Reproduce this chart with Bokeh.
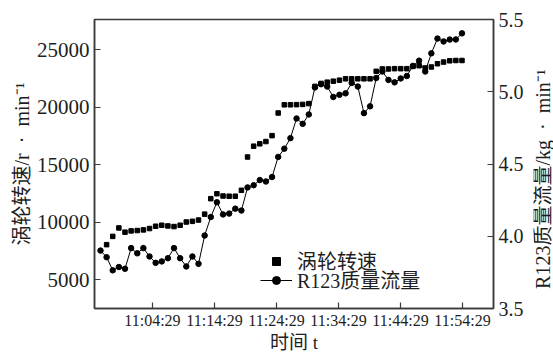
import math
import pandas as pd
from bokeh.plotting import figure
from bokeh.layouts import row
from bokeh.models import (Range1d, LinearAxis, FixedTicker, DatetimeTickFormatter,
                          NumeralTickFormatter, Legend, LegendItem, Label)
from bokeh.embed import file_html
from bokeh.resources import INLINE

# ---- data -------------------------------------------------------------
DAY = "2020-06-01 "
first_sample = "10:56:06"
last_sample = "11:54:24"

# R123 mass flow, kg/min (one reading per sample)
flow_kg_min = [3.901, 3.855, 3.764, 3.787, 3.775, 3.918, 3.882, 3.918, 3.860, 3.816,
               3.826, 3.848, 3.918, 3.848, 3.791, 3.860, 3.809, 4.005, 4.133, 4.235,
               4.151, 4.157, 4.191, 4.178, 4.338, 4.353, 4.389, 4.379, 4.410, 4.549,
               4.606, 4.679, 4.815, 4.778, 4.843, 5.030, 5.052, 5.036, 4.964, 4.979,
               4.989, 5.061, 5.036, 4.852, 4.899, 5.095, 5.140, 5.082, 5.065, 5.092,
               5.109, 5.179, 5.215, 5.140, 5.266, 5.368, 5.348, 5.361, 5.362, 5.404]

# turbine speed, r/min (logged from the second sample on)
speed_rpm = [8055, 8774, 9512, 9143, 9255, 9285, 9341, 9460, 9658,
             9744, 9686, 9630, 9744, 10026, 10086, 10198, 10712, 12058, 12486,
             12289, 12270, 12270, 12786, 15683, 16626, 16832, 17029, 17543, 19514,
             20226, 20226, 20240, 20260, 20330, 21829, 22086, 22197, 22283, 22369,
             22489, 22489, 22489, 22489, 22489, 23140, 23346, 23346, 23370, 23370,
             23370, 23569, 23629, 23431, 23517, 23800, 23946, 24057, 24083, 24083]

time_ticks = ["11:04:29", "11:14:29", "11:24:29", "11:34:29", "11:44:29", "11:54:29"]
speed_ticks = [5000, 10000, 15000, 20000, 25000]
flow_ticks = [3.5, 4.0, 4.5, 5.0, 5.5]

times = pd.date_range(DAY + first_sample, DAY + last_sample, periods=len(flow_kg_min))
speed_times = times[len(times) - len(speed_rpm):]


def ms(ts):
    return pd.Timestamp(DAY + ts).value / 1e6


FONT = "'Liberation Serif', 'Noto Sans CJK SC'"
DARK = "#3a3a3a"
TEXT = "#1e1e1e"
SEP = "\u2002·\u2002"

p = figure(width=533, height=355, output_backend="svg", toolbar_location=None,
           x_axis_type="datetime",
           x_range=Range1d(pd.Timestamp(DAY + "10:55:08"), pd.Timestamp(DAY + "11:59:29")),
           y_range=Range1d(2500, 27650),
           min_border_left=94, min_border_right=40, min_border_top=19, min_border_bottom=43)
p.grid.visible = False
p.background_fill_color = "white"
p.border_fill_color = "white"
p.outline_line_color = DARK
p.outline_line_width = 1.5

p.extra_y_ranges = {"flow": Range1d(3.5, 5.5)}
right_axis = LinearAxis(y_range_name="flow")
p.add_layout(right_axis, "right")

sq = p.scatter(speed_times, speed_rpm, marker="square", size=4.5, color="black")
ln = p.line(times, flow_kg_min, y_range_name="flow", line_color="black", line_width=1)
ci = p.scatter(times, flow_kg_min, y_range_name="flow", marker="circle", size=5.5,
               color="black")

# axes styling
xa = p.xaxis[0]
xa.ticker = FixedTicker(ticks=[ms(t) for t in time_ticks])
fmt = "%H:%M:%S"
xa.formatter = DatetimeTickFormatter(seconds=fmt, minsec=fmt, minutes=fmt,
                                     hourmin=fmt, hours=fmt)
xa.axis_label = "时间 t"

ya = p.yaxis[0]
ya.ticker = FixedTicker(ticks=speed_ticks)
ya.axis_label = "涡轮转速/r" + SEP + "min⁻¹"

right_axis.ticker = FixedTicker(ticks=flow_ticks)
right_axis.formatter = NumeralTickFormatter(format="0.0")

for ax in (xa, ya, right_axis):
    ax.axis_line_color = DARK
    ax.axis_line_width = 1.5
    ax.major_tick_line_color = DARK
    ax.major_tick_line_width = 1.2
    ax.major_tick_in = 6
    ax.major_tick_out = 0
    ax.minor_tick_line_color = None
    ax.major_label_text_font = FONT
    ax.major_label_text_color = TEXT
    ax.axis_label_text_font = FONT
    ax.axis_label_text_font_style = "normal"
    ax.axis_label_text_color = TEXT

xa.major_label_text_font_size = "16px"
xa.major_label_standoff = 3
xa.axis_label_text_font_size = "19px"
xa.axis_label_standoff = 0

ya.major_label_text_font_size = "21px"
ya.major_label_standoff = 5
ya.axis_label_text_font_size = "20px"
ya.axis_label_standoff = 1

right_axis.major_label_text_font_size = "20px"
right_axis.major_label_standoff = 5

# two single-row legends so the rows sit close together
leg_style = dict(padding=0, margin=0, spacing=0, glyph_width=32, glyph_height=20,
                 label_height=20, label_standoff=5, label_text_font=FONT,
                 label_text_font_size="20px", label_text_color=TEXT,
                 border_line_alpha=0, background_fill_alpha=0)
p.add_layout(Legend(items=[LegendItem(label="涡轮转速", renderers=[sq])],
                    location=(166, 33), **leg_style))
p.add_layout(Legend(items=[LegendItem(label="R123质量流量", renderers=[ln, ci])],
                    location=(166, 14), **leg_style))

# narrow strip on the right carrying the flow-axis title, read bottom to top
strip = figure(width=20, height=355, output_backend="svg", toolbar_location=None,
               title=None, x_axis_location=None, y_axis_location=None,
               min_border_left=0, min_border_right=0, min_border_top=0,
               min_border_bottom=0,
               x_range=Range1d(0, 20), y_range=Range1d(0, 355))
strip.grid.visible = False
strip.outline_line_color = None
strip.background_fill_color = "white"
strip.border_fill_color = "white"
strip.add_layout(Label(x=9, y=159, text="R123质量流量/kg" + SEP + "min⁻¹",
                       angle=math.pi / 2, text_align="center", text_baseline="middle",
                       text_font=FONT, text_font_size="20px", text_color=TEXT))

open("out.html", "w").write(file_html(row(p, strip, spacing=0), INLINE))
